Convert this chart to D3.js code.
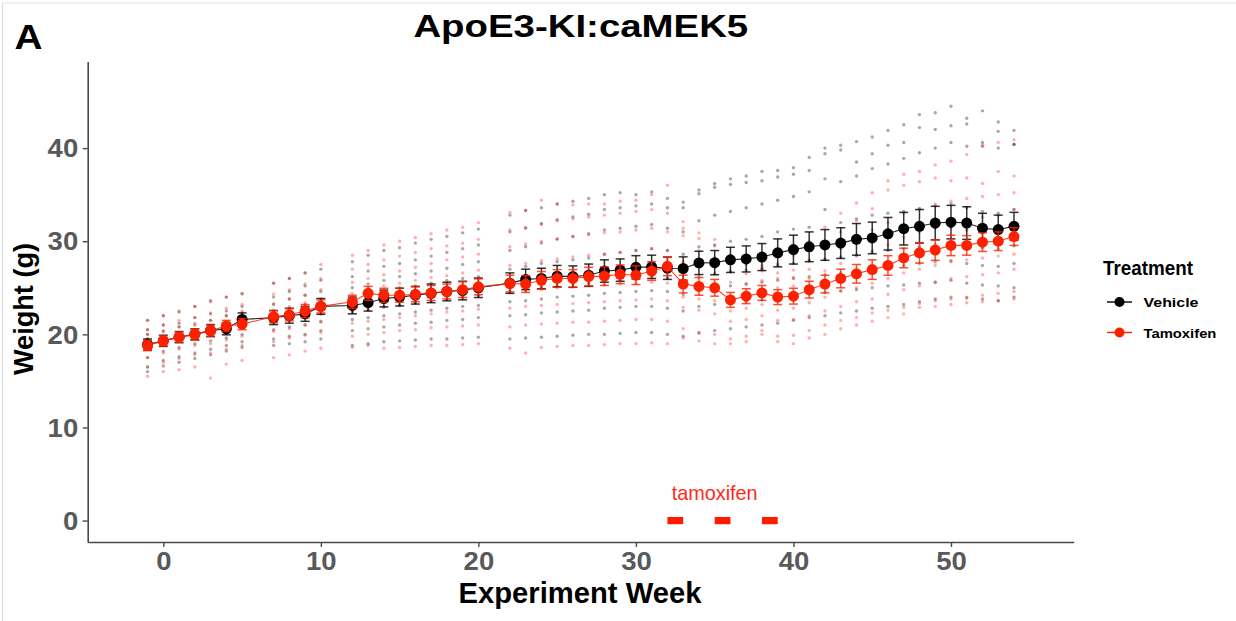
<!DOCTYPE html>
<html><head><meta charset="utf-8">
<script src="https://cdn.jsdelivr.net/npm/d3@7"></script>
<style>html,body{margin:0;padding:0;background:#fff;}svg{display:block;}</style>
</head><body>
<svg id="chart" width="1236" height="621"></svg>
<script>
// ---------------- DATA ----------------
const weeks = [-1,0,1,2,3,4,5,7,8,9,10,12,13,14,15,16,17,18,19,20,22,23,24,25,26,27,28,29,30,31,32,33,34,35,36,37,38,39,40,41,42,43,44,45,46,47,48,49,50,51,52,53,54];
const groups = ["Vehicle","Tamoxifen"];

const vehicleMean = [18.9,19.3,19.7,20.0,20.4,20.6,21.6, 21.8,22.0,22.2,23.0, 23.1,23.4,23.85,24.0,24.2,24.4,24.6,24.7,25.0, 25.5,25.9,26.0,26.25,26.2,26.35,26.8,26.9,27.2,27.25, 27.1,27.07,27.67,27.7,28.0,28.1,28.3,28.75,29.1, 29.4,29.6,29.8,30.2,30.35,30.8,31.35,31.6,31.95,32.05,31.95,31.4,31.25,31.6];
const vehicleSE = [0.6,0.6,0.6,0.6,0.65,0.65,0.7, 0.75,0.8,0.8,0.85, 0.9,0.9,0.9,0.95,0.95,1.0,1.0,1.0,1.05, 1.1,1.1,1.1,1.15,1.15,1.2,1.2,1.2,1.25,1.25, 1.2,1.25,1.25,1.3,1.35,1.4,1.45,1.5,1.55, 1.6,1.65,1.65,1.7,1.7,1.75,1.75,1.8,1.8,1.8,1.75,1.6,1.55,1.5];
const tamoxifenMean = [18.8,19.3,19.7,20.0,20.4,20.9,21.1, 21.9,22.1,22.5,23.0, 23.5,24.4,24.2,24.2,24.3,24.45,24.6,24.8,25.1, 25.45,25.4,25.8,26.0,26.0,26.2,26.25,26.45,26.35,26.8, 27.3,25.4,25.15,25.0,23.7,24.1,24.45,24.0,24.1, 24.8,25.4,26.0,26.5,26.95,27.4,28.2,28.75,29.05,29.55,29.55,29.9,30.0,30.5];
const tamoxifenSE = [0.55,0.55,0.55,0.6,0.6,0.6,0.6, 0.65,0.65,0.7,0.7, 0.7,0.75,0.75,0.75,0.8,0.8,0.8,0.85,0.85, 0.9,0.9,0.95,0.95,0.95,1.0,1.0,1.0,1.0,1.0, 1.0,0.95,0.95,0.9,0.8,0.8,0.8,0.8,0.85, 0.9,0.95,1.0,1.0,1.05,1.05,1.05,1.1,1.1,1.1,1.05,1.0,1.0,0.95];

// individual mice (one value per week above)
const vehicleMice = [
 [21.5,22.0,22.4,23.0,23.6,24.0,24.4, 25.5,26.0,26.6,27.0, 27.8,28.5,29.0,29.3,29.8,30.2,30.5,30.9,31.3, 32.8,33.3,33.6,34.0,34.3,34.6,35.0,35.2,35.0,35.3, 34.6,34.2,35.5,36.2,36.7,37.0,37.5,37.6,37.9, 39.0,40.0,40.3,40.7,41.2,41.9,42.5,43.6,43.8,44.5,43.2,44.0,42.8,41.9],
 [20.5,21.0,21.2,21.8,22.2,22.5,23.0, 24.0,24.6,25.2,25.8, 26.2,26.8,27.3,27.6,28.0,28.4,28.8,29.2,29.6, 31.0,31.4,31.9,32.3,32.6,32.9,33.4,33.6,33.8,34.0, 33.6,33.6,35.1,35.8,36.1,36.3,36.5,36.9,37.2, 37.6,39.4,39.8,38.5,39.4,40.3,40.6,42.2,42.0,42.4,42.6,40.6,41.8,40.4],
 [20.0,20.3,20.8,21.0,21.5,22.0,22.3, 23.2,23.8,24.2,24.6, 25.0,25.4,25.8,26.2,26.5,26.8,27.1,27.5,27.8, 29.0,29.4,29.8,30.2,30.5,30.8,31.2,31.4,31.6,31.8, 31.4,31.0,32.2,32.8,33.2,33.6,34.0,34.4,34.8, 35.3,36.7,36.4,37.0,37.8,38.3,38.9,39.5,40.0,40.6,40.2,40.2,40.0,40.4],
 [19.5,19.8,20.2,20.5,20.8,21.3,22.0, 22.5,22.8,23.2,23.6, 24.0,24.3,24.6,25.0,25.2,25.5,25.8,26.0,26.2, 27.0,27.3,27.6,27.8,28.0,28.2,28.6,28.8,29.0,29.2, 29.0,28.6,29.4,29.6,30.0,30.2,30.5,31.0,31.3, 31.5,33.4,32.0,32.4,32.8,33.0,33.2,33.5,33.8,34.0,33.6,33.2,33.0,33.4],
 [19.0,19.5,19.8,20.0,20.3,20.6,21.4, 21.8,22.0,22.3,22.8, 23.0,23.3,23.6,23.8,24.0,24.3,24.5,24.8,25.0, 25.6,25.9,26.2,26.5,26.6,26.8,27.0,27.2,27.4,27.5, 27.3,27.0,27.6,27.8,28.0,28.2,28.4,28.8,29.0, 29.3,29.6,29.8,30.0,30.4,30.6,30.9,31.2,31.4,31.5,31.2,31.0,30.8,31.2],
 [18.5,19.0,19.4,19.6,20.0,20.3,20.8, 21.2,21.5,21.8,22.2, 22.4,22.6,22.9,23.1,23.4,23.6,23.8,24.0,24.2, 24.6,24.8,25.0,25.2,25.4,25.5,25.7,25.8,26.0,26.1, 26.0,25.8,26.2,26.5,26.7,26.9,27.1,27.4,27.6, 27.9,28.1,28.3,28.5,28.8,29.0,29.2,29.4,29.6,29.7,29.5,29.3,29.2,29.5],
 [17.5,18.2,18.6,19.0,19.3,19.6,20.0, 20.5,20.8,21.0,21.4, 21.6,21.8,22.0,22.2,22.4,22.6,22.8,23.0,23.1, 23.5,23.6,23.8,24.0,24.1,24.2,24.4,24.5,24.6,24.7, 24.6,24.3,24.8,25.0,25.2,25.4,25.6,25.8,26.0, 26.2,26.4,26.6,26.8,27.0,27.2,27.4,27.6,27.8,27.9,27.6,27.4,27.3,27.6],
 [16.5,17.2,17.6,18.0,18.4,18.8,19.2, 19.5,19.8,20.0,20.4, 20.4,20.6,20.8,21.0,21.2,21.3,21.5,21.6,21.8, 22.0,22.1,22.3,22.4,22.5,22.6,22.8,22.9,23.0,23.0, 22.8,22.5,23.0,23.2,23.3,23.5,23.7,23.9,24.1, 24.3,24.5,24.7,24.8,25.0,25.2,25.3,25.5,25.6,25.8,25.5,25.3,25.2,25.0],
 [16.0,16.6,17.0,17.4,17.8,18.2,18.6, 18.8,19.0,19.2,19.5, 18.8,19.0,19.2,19.3,19.4,19.5,19.5,19.6,19.7, 19.5,19.6,19.7,19.8,19.9,20.0,20.0,20.1,20.2,20.2, 20.0,19.8,20.2,20.4,20.6,20.8,21.0,21.2,21.5, 21.8,22.0,22.3,22.5,22.8,23.0,23.2,23.5,23.8,24.0,23.9,23.8,23.6,24.0]
];
const tamoxifenMice = [
 [21.5,22.0,22.5,23.0,23.5,24.0,24.3, 25.5,26.0,26.6,27.5, 28.5,29.0,29.6,30.0,30.4,30.8,31.2,31.5,32.0, 33.1,33.3,34.4,34.0,33.9,34.0,34.0,34.3,34.4,35.0, 36.0,32.1,30.9,30.2,28.5,28.0,27.4,27.6,28.5, 30.0,31.5,33.0,34.1,35.2,36.5,37.2,37.5,38.2,38.6,39.3,40.3,40.6,40.9],
 [20.5,21.0,21.5,21.8,22.3,22.8,23.2, 24.3,24.8,25.4,26.0, 27.0,27.5,28.0,28.4,28.8,29.2,29.5,29.8,30.2, 31.2,31.5,31.8,32.2,32.4,32.6,32.8,33.0,33.2,33.4, 33.0,31.4,30.3,29.5,27.8,27.5,27.0,26.6,26.9, 28.0,29.5,31.0,32.2,33.5,35.5,36.0,36.4,36.8,36.5,36.8,36.2,37.5,37.0],
 [20.0,20.4,20.8,21.2,21.5,22.0,22.5, 23.3,23.8,24.2,24.8, 25.6,26.0,26.4,26.8,27.2,27.6,28.0,28.3,28.6, 29.4,29.7,30.0,30.3,30.5,30.7,30.9,31.0,31.2,31.4, 31.0,30.6,29.0,28.2,26.8,26.5,26.8,26.0,26.1, 27.0,28.0,29.2,30.4,31.2,32.0,33.0,33.5,34.0,34.3,34.6,34.8,35.0,35.2],
 [19.5,19.8,20.2,20.5,20.8,21.3,21.8, 22.6,23.0,23.4,23.8, 24.4,25.0,25.2,25.5,25.8,26.1,26.3,26.6,26.9, 27.4,27.6,27.9,28.1,28.3,28.5,28.6,28.8,29.0,29.2, 29.0,27.8,27.5,27.2,25.6,25.4,25.8,25.0,25.2, 26.0,26.8,27.6,28.4,29.0,29.6,30.4,31.0,31.6,32.0,32.2,32.6,32.8,33.4],
 [19.0,19.4,19.8,20.0,20.3,20.7,21.0, 21.8,22.2,22.5,22.9, 23.4,23.8,24.0,24.2,24.4,24.6,24.8,25.0,25.2, 25.6,25.8,26.0,26.2,26.3,26.5,26.6,26.8,27.0,27.1, 27.0,25.6,25.2,25.0,23.8,24.0,24.5,23.8,24.0, 24.6,25.2,25.8,26.4,26.8,27.3,28.0,28.6,29.0,29.4,29.6,29.8,30.0,30.2],
 [18.5,19.0,19.3,19.6,19.9,20.2,20.6, 21.2,21.5,21.8,22.2, 22.5,22.8,23.0,23.2,23.4,23.6,23.8,24.0,24.2, 24.5,24.6,24.8,25.0,25.1,25.2,25.3,25.4,25.5,25.6, 25.5,24.0,23.8,23.6,22.5,22.8,23.2,22.6,22.8, 23.4,24.0,24.6,25.0,25.5,26.0,26.6,27.0,27.4,27.8,28.0,28.2,28.4,28.6],
 [17.5,18.0,18.4,18.8,19.0,19.4,19.8, 20.3,20.6,21.0,21.3, 21.2,21.4,21.6,21.8,22.0,22.2,22.4,22.5,22.7, 22.8,23.0,23.1,23.2,23.3,23.4,23.5,23.6,23.7,23.8, 23.6,22.9,22.6,22.2,21.4,21.6,22.0,21.5,21.6, 22.0,22.5,23.0,23.5,23.8,24.3,24.8,25.2,25.6,26.0,26.2,26.4,26.6,27.0],
 [16.5,17.0,17.4,17.8,18.0,18.4,18.8, 19.2,19.6,19.9,20.2, 19.8,20.0,20.2,20.4,20.5,20.7,20.8,20.9,21.0, 20.8,21.0,21.1,21.2,21.3,21.3,21.4,21.5,21.6,21.6, 21.4,20.6,20.1,20.0,19.5,19.8,20.4,19.8,19.9, 20.4,21.0,21.5,21.8,22.3,22.6,22.9,23.3,23.6,23.8,24.0,24.2,24.4,24.6],
 [15.5,16.0,16.2,16.5,15.3,16.8,17.2, 17.5,17.8,18.2,18.5, 18.6,18.8,18.5,18.6,18.7,18.8,18.8,18.9,19.0, 18.5,18.0,18.6,18.7,18.8,18.8,18.9,19.0,19.0,19.1, 19.0,19.6,19.3,19.0,19.0,19.2,20.0,19.2,19.0, 19.6,20.0,20.6,21.0,21.4,21.8,22.2,22.9,23.0,23.2,23.4,23.5,23.6,23.8]
];

const xTicks = [0,10,20,30,40,50];
const yTicks = [0,10,20,30,40];
const tamoxifenDosing = [[32,33],[35,36],[38,39]];
const tamoxifenLabel = {week: 35, weight: 2.2, text: "tamoxifen"};

// ---------------- CHART ----------------
const svg = d3.select("#chart");
const colors = {Vehicle: "#000000", Tamoxifen: "#ff2000"};
const FONT = "Liberation Sans, Arial, sans-serif";

const x = d3.scaleLinear().domain([-4.8, 57.79]).range([87.7, 1073.7]);
const y = d3.scaleLinear().domain([-2.3, 49.3]).range([542, 61.5]);

// figure border (left/top)
svg.append("line").attr("x1",2.5).attr("x2",2.5).attr("y1",3).attr("y2",621).attr("stroke","#dcdcdc").attr("stroke-width",1.2);
svg.append("line").attr("x1",2.5).attr("x2",1236).attr("y1",3).attr("y2",3).attr("stroke","#e2e2e2").attr("stroke-width",1.2);

function fitText(g, target) {
  const t = g.select("text");
  const w = t.node().getComputedTextLength();
  t.attr("transform", `scale(${target / w},1)`);
}

// axes
const xAxis = svg.append("g").attr("transform", `translate(0,542)`)
  .call(d3.axisBottom(x).tickValues(xTicks).tickSize(5).tickSizeOuter(0).tickPadding(5));
const yAxis = svg.append("g").attr("transform", `translate(87.7,0)`)
  .call(d3.axisLeft(y).tickValues(yTicks).tickSize(5).tickSizeOuter(0).tickPadding(4));
[xAxis, yAxis].forEach(a => {
  a.select(".domain").attr("stroke", "#4a4a4a").attr("stroke-width", 1.6);
  a.selectAll(".tick line").attr("stroke", "#4a4a4a").attr("stroke-width", 1.4);
  a.selectAll(".tick text").attr("fill", "#595959").attr("font-family", FONT)
    .attr("font-weight", "bold").attr("font-size", 25);
});
xAxis.selectAll(".tick text").attr("dy", "0.71em").attr("transform", "scale(1.1,1)");
yAxis.selectAll(".tick text").attr("dy", "0.35em").attr("x", 0).attr("transform", "translate(-9.5,0) scale(1.1,1)");

// individual points
const plot = svg.append("g");
function drawIndividuals(mice, color) {
  const pts = [];
  mice.forEach(m => m.forEach((v, i) => pts.push([weeks[i], v])));
  plot.append("g").selectAll("circle").data(pts).join("circle")
    .attr("cx", d => x(d[0])).attr("cy", d => y(d[1])).attr("r", 1.7)
    .attr("fill", color).attr("fill-opacity", 0.34);
}
drawIndividuals(vehicleMice, colors.Vehicle);
drawIndividuals(tamoxifenMice, colors.Tamoxifen);

function drawSummary(means, ses, color) {
  const g = plot.append("g");
  const line = d3.line().x((d, i) => x(weeks[i])).y(d => y(d));
  g.append("path").datum(means).attr("d", line).attr("fill", "none").attr("stroke", color).attr("stroke-width", 1.1).attr("stroke-opacity", 0.85);
  const eb = g.append("g").attr("stroke", color).attr("stroke-width", 1.5).attr("stroke-opacity", 0.8);
  means.forEach((m, i) => {
    const cx = x(weeks[i]), y1 = y(m - ses[i]), y2 = y(m + ses[i]);
    eb.append("line").attr("x1", cx).attr("x2", cx).attr("y1", y1).attr("y2", y2);
    eb.append("line").attr("x1", cx - 4.5).attr("x2", cx + 4.5).attr("y1", y1).attr("y2", y1);
    eb.append("line").attr("x1", cx - 4.5).attr("x2", cx + 4.5).attr("y1", y2).attr("y2", y2);
  });
  g.append("g").selectAll("circle").data(means).join("circle")
    .attr("cx", (d, i) => x(weeks[i])).attr("cy", d => y(d)).attr("r", 5.5).attr("fill", color);
}
drawSummary(vehicleMean, vehicleSE, colors.Vehicle);
drawSummary(tamoxifenMean, tamoxifenSE, colors.Tamoxifen);

// tamoxifen dosing annotation
svg.append("g").selectAll("rect").data(tamoxifenDosing).join("rect")
  .attr("x", d => x(d[0])).attr("width", d => x(d[1]) - x(d[0]))
  .attr("y", y(0) - 3.6).attr("height", 7.2).attr("fill", "#ff1a00");
const tl = svg.append("g").attr("transform", `translate(${x(tamoxifenLabel.week)},${y(tamoxifenLabel.weight)})`);
tl.append("text").attr("text-anchor", "middle").attr("font-family", FONT)
  .attr("font-size", 20).attr("fill", "#ff2a1a").text(tamoxifenLabel.text);
fitText(tl, 86);

// titles
function label(txt, tx, ty, size, target, opts = {}) {
  const g = svg.append("g").attr("transform", `translate(${tx},${ty})` + (opts.rotate ? ` rotate(${opts.rotate})` : ""));
  g.append("text").attr("text-anchor", opts.anchor || "middle").attr("font-family", FONT)
    .attr("font-weight", opts.weight || "bold").attr("font-size", size).attr("fill", opts.fill || "#000").text(txt);
  if (target) fitText(g, target);
  return g;
}
label("ApoE3-KI:caMEK5", 580.8, 37.3, 31, 335);
label("A", 14.5, 48.5, 36, 28, {anchor: "start"});
label("Experiment Week", 580, 603, 29.5, 243);
label("Weight (g)", 33, 309, 27, 132, {rotate: -90});

// legend
label("Treatment", 1103, 275, 20.5, 90, {anchor: "start"});
groups.forEach((gname, i) => {
  const ly = 302 + i * 30.5;
  svg.append("line").attr("x1", 1107).attr("x2", 1132).attr("y1", ly).attr("y2", ly)
    .attr("stroke", colors[gname]).attr("stroke-width", 1.4);
  svg.append("circle").attr("cx", 1119.5).attr("cy", ly).attr("r", 5).attr("fill", colors[gname]);
  label(gname, 1143.5, ly + 5, 13, gname === "Vehicle" ? 55 : 73, {anchor: "start"});
});
</script>
</body></html>
